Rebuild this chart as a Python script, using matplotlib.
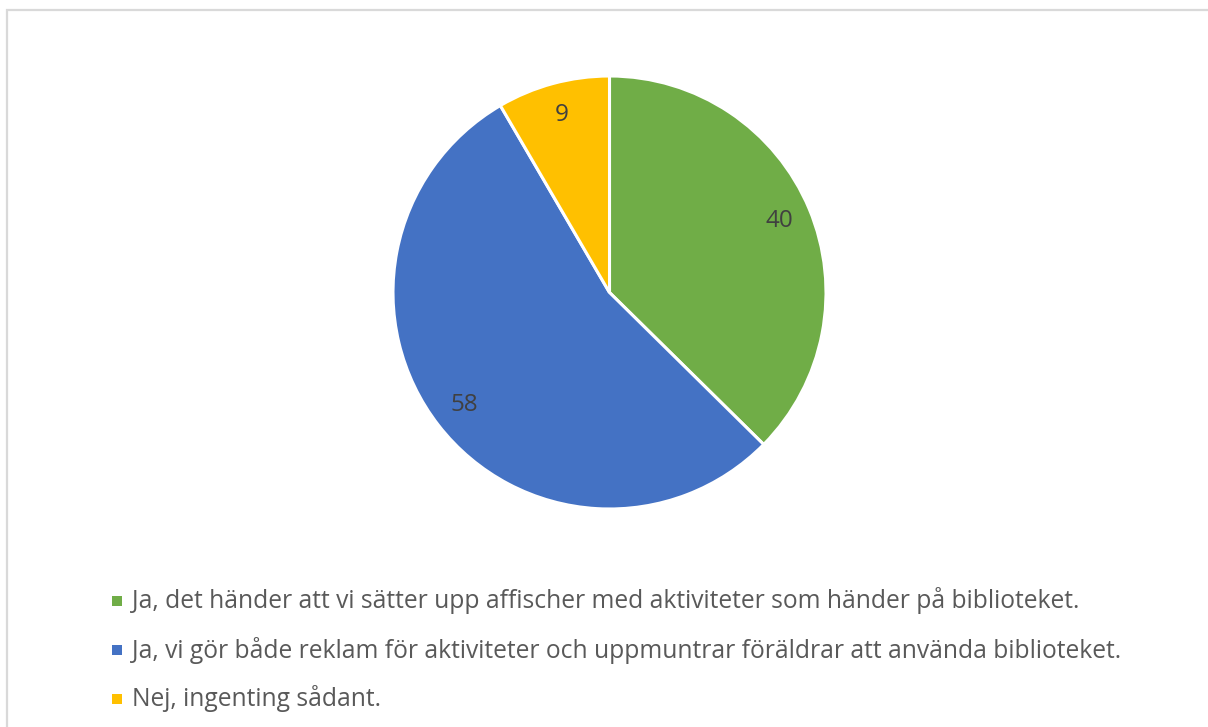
import matplotlib
matplotlib.use("Agg")
import matplotlib.pyplot as plt
from matplotlib.patches import Rectangle

# survey answers, order as in the legend
labels = [
    "Ja, det händer att vi sätter upp affischer med aktiviteter som händer på biblioteket.",
    "Ja, vi gör både reklam för aktiviteter och uppmuntrar föräldrar att använda biblioteket.",
    "Nej, ingenting sådant.",
]
values = [40, 58, 9]
colors = ["#70AD47", "#4472C4", "#FFC000"]

W, H = 1208, 727
plt.rcParams['font.family'] = ['Open Sans', 'DejaVu Sans']

fig = plt.figure(figsize=(W / 100, H / 100), dpi=100)

# light grey chart frame (runs off right/bottom edge)
fig.patches.append(Rectangle((7 / W, -0.1), 1.2, (H - 9.5) / H + 0.1,
                             transform=fig.transFigure, fill=False,
                             edgecolor="#D9D9D9", linewidth=1.6))

cx, cy, r = 609.5, 292.5, 216.5
ax = fig.add_axes([(cx - r) / W, (H - cy - r) / H, 2 * r / W, 2 * r / H])
wedges, texts = ax.pie(values, colors=colors, startangle=90, counterclock=False,
                       labels=[str(v) for v in values], labeldistance=0.85,
                       wedgeprops=dict(edgecolor="white", linewidth=2.2),
                       textprops=dict(color="#404040", fontsize=17.5))
for t in texts:
    t.set_ha("center")
    t.set_va("center")
ax.set_xlim(-1, 1)
ax.set_ylim(-1, 1)
ax.set_aspect("equal")
ax.axis("off")

# legend drawn by hand
ys = [601, 650, 699]
for lab, col, y in zip(labels, colors, ys):
    fig.patches.append(Rectangle((112 / W, (H - y - 5) / H), 10 / W, 10 / H,
                                 transform=fig.transFigure, facecolor=col,
                                 edgecolor="none"))
    fig.text(132 / W, (H - y) / H, lab, color="#595959", fontsize=17.7,
             ha="left", va="center")

fig.savefig("out.png", dpi=100)
